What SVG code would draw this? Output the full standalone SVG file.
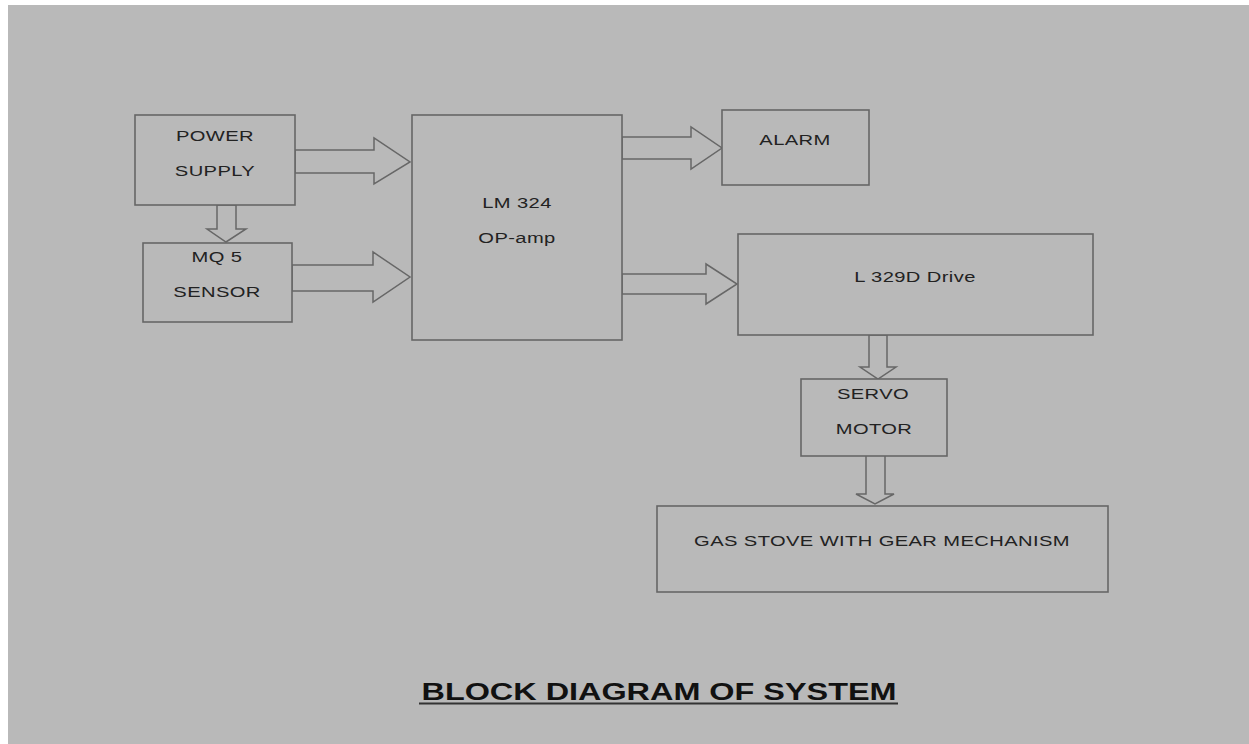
<svg xmlns="http://www.w3.org/2000/svg" width="1249" height="744" viewBox="0 0 1249 744">
<style>
.box{fill:#b9b9b9;stroke:#676767;stroke-width:1.6}
.arr{fill:#b9b9b9;stroke:#676767;stroke-width:1.5;stroke-linejoin:miter}
.t{font-family:"Liberation Sans",Arial,sans-serif;font-size:15.5px;fill:#222;text-anchor:middle;letter-spacing:0.3px}
.title{font-family:"Liberation Sans",Arial,sans-serif;font-size:24px;font-weight:bold;fill:#111;text-anchor:middle}
</style>
<rect x="0" y="0" width="1249" height="744" fill="#ffffff"/>
<rect x="8" y="5" width="1241" height="739" fill="#b9b9b9"/>
<g id="connectors">
<polygon class="arr" points="295,150 374,150 374,138 410,162 374,184 374,173 295,173"/>
<polygon class="arr" points="217,205 217,229 207,229 226,242 246,229 236,229 236,205"/>
<polygon class="arr" points="292,265 373,265 373,252 410,277 373,302 373,291 292,291"/>
<polygon class="arr" points="622,137 691,137 691,127 722,148 691,169 691,159 622,159"/>
<polygon class="arr" points="622,274 706,274 706,264 737,284 706,304 706,294 622,294"/>
<polygon class="arr" points="869,335 869,367 860,367 878,379 896,367 887,367 887,335"/>
<polygon class="arr" points="866,455 866,494 856,494 875,504 894,494 885,494 885,455"/>
</g>
<g id="power-supply">
<rect class="box" x="135" y="115" width="160" height="90"/>
<text class="t" transform="translate(215,141) scale(1.3,1)">POWER</text>
<text class="t" transform="translate(215,176) scale(1.3,1)">SUPPLY</text>
</g>
<g id="mq5-sensor">
<rect class="box" x="143" y="243" width="149" height="79"/>
<text class="t" transform="translate(217,262) scale(1.3,1)">MQ 5</text>
<text class="t" transform="translate(217,297) scale(1.3,1)">SENSOR</text>
</g>
<g id="lm324">
<rect class="box" x="412" y="115" width="210" height="225"/>
<text class="t" transform="translate(517,208) scale(1.3,1)">LM 324</text>
<text class="t" transform="translate(517,243) scale(1.3,1)">OP-amp</text>
</g>
<g id="alarm">
<rect class="box" x="722" y="110" width="147" height="75"/>
<text class="t" transform="translate(795,145) scale(1.3,1)">ALARM</text>
</g>
<g id="l329d">
<rect class="box" x="738" y="234" width="355" height="101"/>
<text class="t" transform="translate(915,282) scale(1.3,1)">L 329D Drive</text>
</g>
<g id="servo-motor">
<rect class="box" x="801" y="379" width="146" height="77"/>
<text class="t" transform="translate(873,399) scale(1.3,1)">SERVO</text>
<text class="t" transform="translate(874,434) scale(1.3,1)">MOTOR</text>
</g>
<g id="gas-stove">
<rect class="box" x="657" y="506" width="451" height="86"/>
<text class="t" transform="translate(882,546) scale(1.3,1)">GAS STOVE WITH GEAR MECHANISM</text>
</g>
<g id="title">
<text class="title" transform="translate(659,700) scale(1.35,1)">BLOCK DIAGRAM OF SYSTEM</text>
<line x1="419" y1="703.5" x2="898" y2="703.5" stroke="#333" stroke-width="2"/>
</g>
</svg>
